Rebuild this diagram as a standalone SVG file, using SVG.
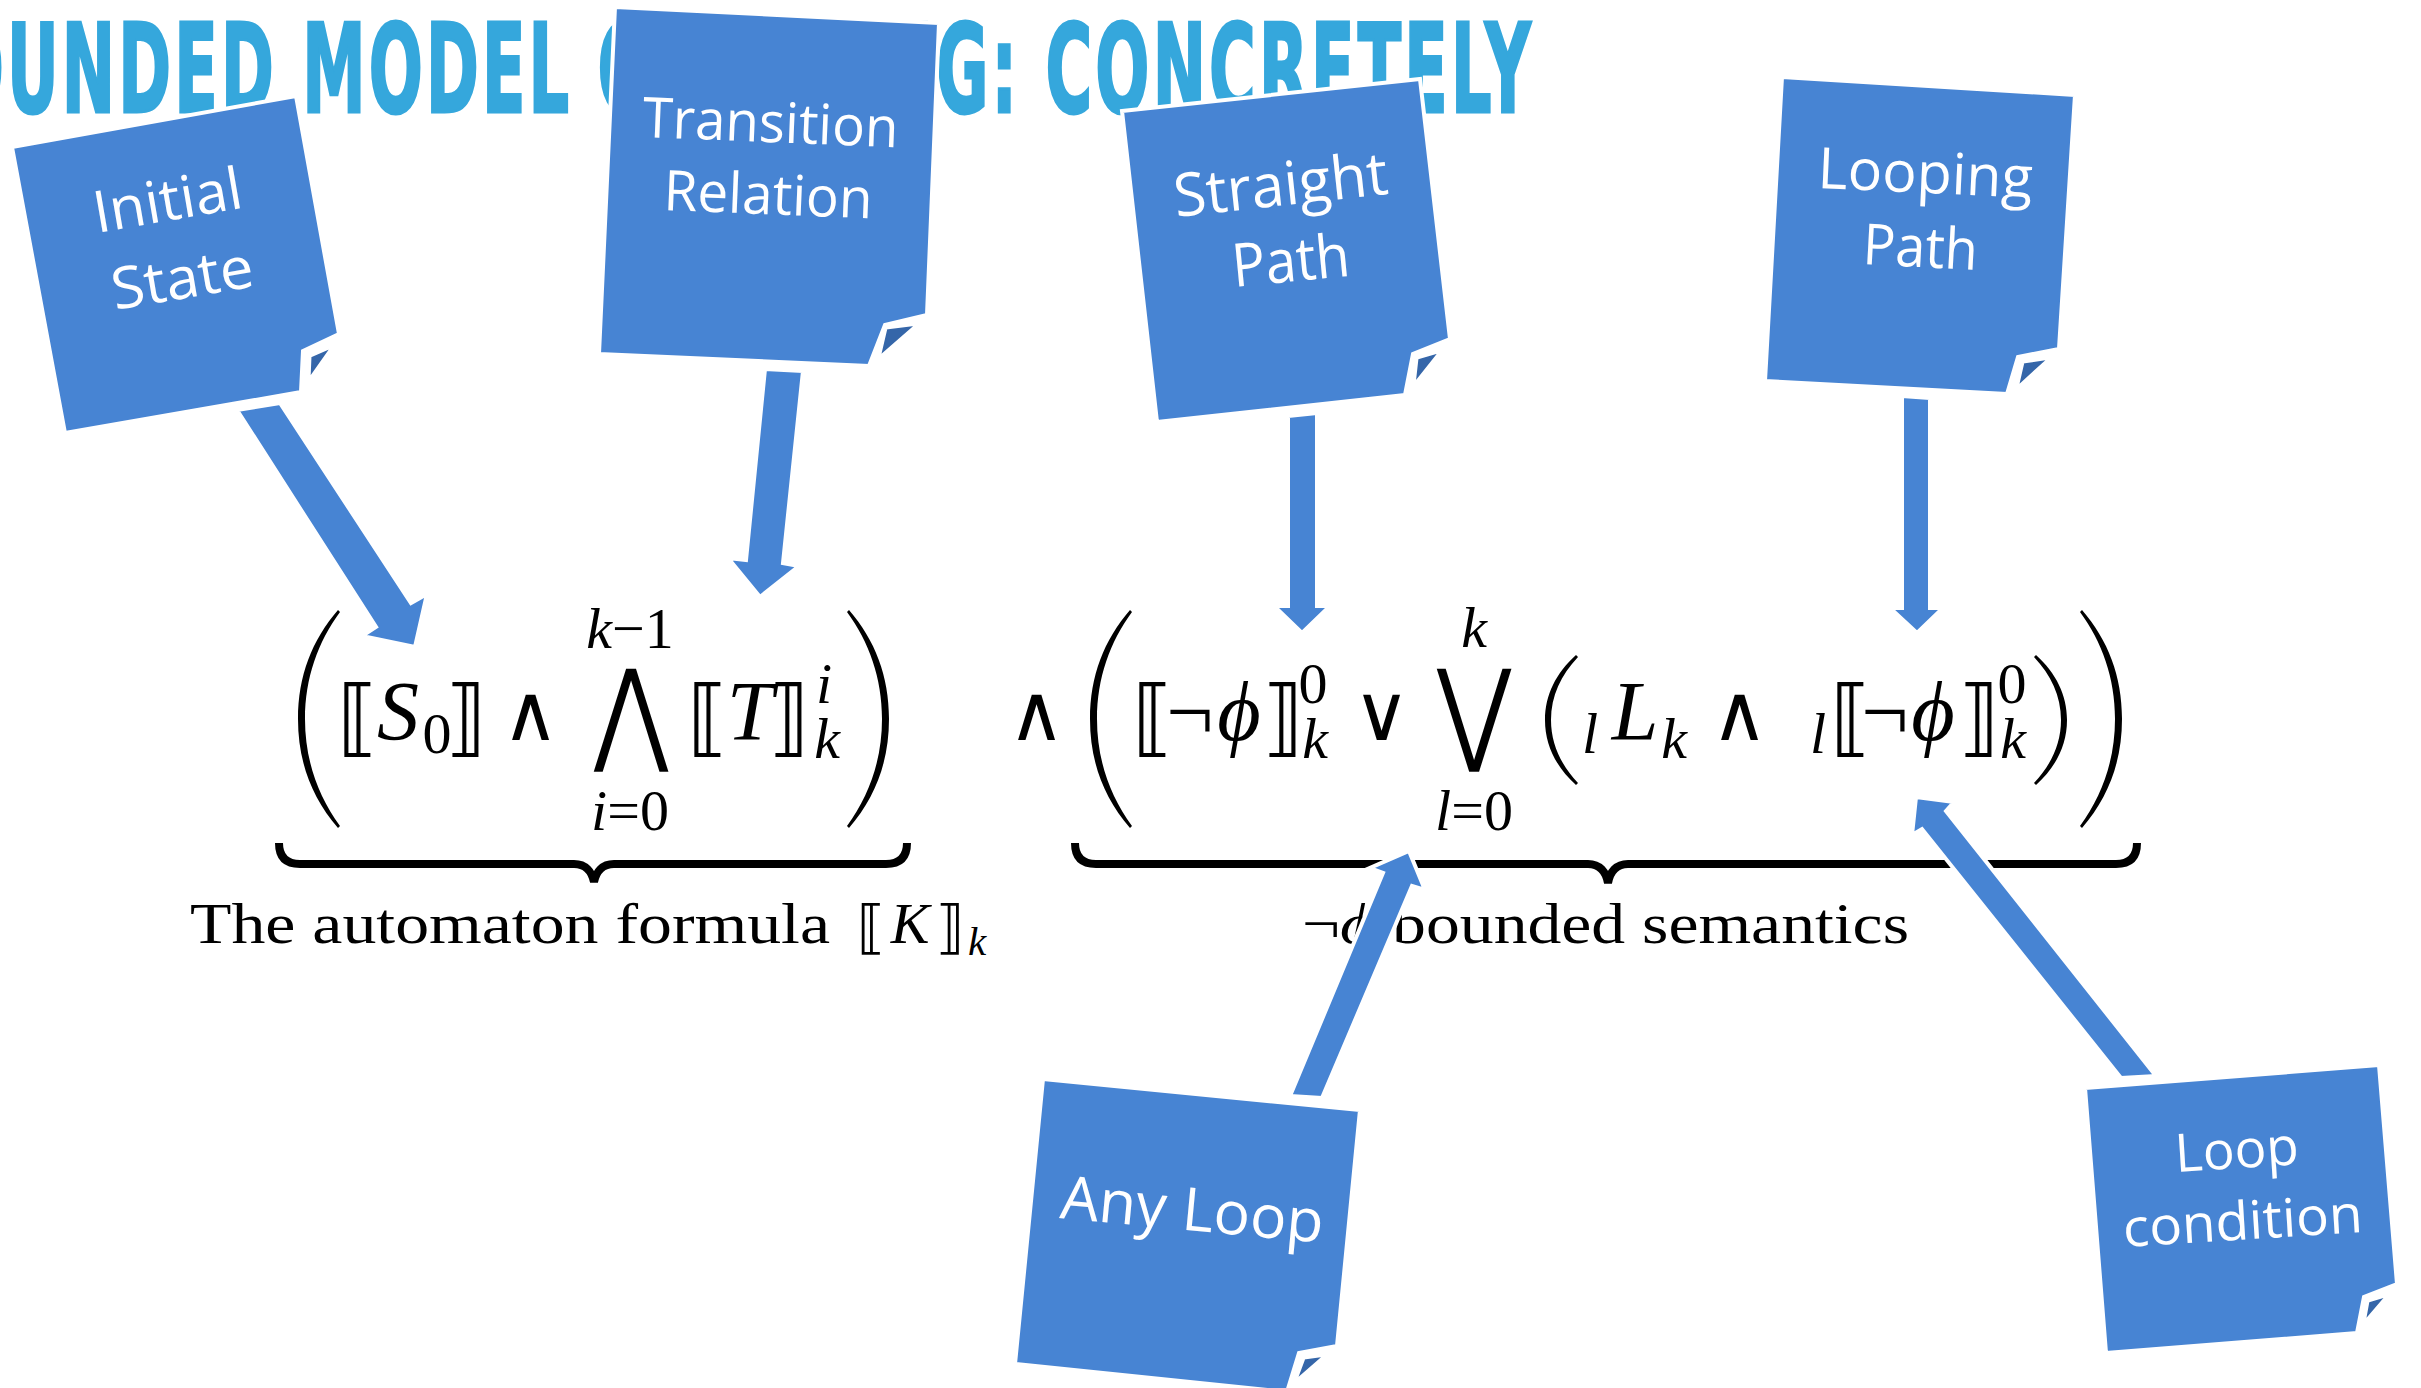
<svg xmlns="http://www.w3.org/2000/svg" width="2421" height="1388" viewBox="0 0 2421 1388">
<style>
.title{font-family:"DejaVu Sans",sans-serif;font-weight:bold;font-size:123px;fill:#35A7DC;stroke:#35A7DC;stroke-width:3;letter-spacing:6px}
.note{fill:#4784D3;stroke:#fff;stroke-width:4;stroke-linejoin:miter}
.fold{fill:#3566A9;stroke:#fff;stroke-width:3}
.lbl{font-family:"Open Sans","Noto Sans",sans-serif;fill:#fff}
.arrow{fill:#4784D3;stroke:#fff;stroke-width:4;stroke-linejoin:miter}
.mi{font-family:"Liberation Serif","DejaVu Serif",serif;font-style:italic;fill:#000}
.mr{font-family:"Liberation Serif","DejaVu Serif",serif;fill:#000}
.op{font-family:"DejaVu Sans",sans-serif;font-weight:200;fill:#000;text-anchor:middle}
.bk{font-family:"DejaVu Sans",sans-serif;fill:#000}
.big{font-family:"DejaVu Sans",sans-serif;font-weight:200;fill:#000;font-size:113px;text-anchor:middle}
.delim{fill:#000}
.brace{fill:none;stroke:#000;stroke-width:8}
.c{text-anchor:middle}
</style>
<defs>
<path id="lparBig" d="M 40,0 C 14,30 0,66 0,109 C 0,152 14,188 40,218 L 42,216 C 20,186 7,150 7,109 C 7,68 20,32 42,2 Z"/>
<path id="lparMed" d="M 31,0 C 11,18 0,40 0,65 C 0,90 11,112 31,130 L 33,128 C 16,110 6,89 6,65 C 6,41 16,20 33,2 Z"/>
</defs>
<rect width="2421" height="1388" fill="#fff"/>

<g id="title">
<text class="title" x="-102" y="112" textLength="1636" lengthAdjust="spacingAndGlyphs">BOUNDED MODEL CHECKING: CONCRETELY</text>
</g>

<g id="formula">
<!-- big delimiters -->
<use href="#lparBig" class="delim" transform="translate(298,610)"/>
<use href="#lparBig" class="delim" transform="translate(889,610) scale(-1,1)"/>
<use href="#lparBig" class="delim" transform="translate(1090,610)"/>
<use href="#lparBig" class="delim" transform="translate(2122,610) scale(-1,1)"/>
<use href="#lparMed" class="delim" transform="translate(1545,655)"/>
<use href="#lparMed" class="delim" transform="translate(2067,655) scale(-1,1)"/>
<!-- left part -->
<text class="bk c" x="358" y="746" font-size="84">⟦</text>
<text class="mi c" x="398" y="740" font-size="84">S</text>
<text class="mr c" x="437" y="753" font-size="58">0</text>
<text class="bk c" x="466" y="746" font-size="84">⟧</text>
<text class="op" x="530" y="740" font-size="78">∧</text>
<text class="big" transform="translate(631,750) scale(0.8,1)">⋀</text>
<text class="mr c" x="630" y="648" font-size="58"><tspan class="mi">k</tspan>−1</text>
<text class="mr c" x="630" y="830" font-size="58"><tspan class="mi">i</tspan>=0</text>
<text class="bk c" x="708" y="746" font-size="84">⟦</text>
<text class="mi c" x="750" y="740" font-size="84">T</text>
<text class="bk c" x="789" y="746" font-size="84">⟧</text>
<text class="mi c" x="824" y="703" font-size="58">i</text>
<text class="mi c" x="827" y="758" font-size="58">k</text>
<text class="op" x="1036" y="740" font-size="78">∧</text>
<!-- right part -->
<text class="bk c" x="1153" y="746" font-size="84">⟦</text>
<text class="mr c" x="1190" y="740" font-size="84">¬</text>
<text class="mi c" x="1239" y="740" font-size="84">ϕ</text>
<text class="bk c" x="1283" y="746" font-size="84">⟧</text>
<text class="mr c" x="1313" y="703" font-size="58">0</text>
<text class="mi c" x="1315" y="758" font-size="58">k</text>
<text class="op" x="1381" y="740" font-size="78">∨</text>
<text class="big" transform="translate(1474,750) scale(0.8,1)">⋁</text>
<text class="mi c" x="1474" y="647" font-size="58">k</text>
<text class="mr c" x="1474" y="830" font-size="58"><tspan class="mi">l</tspan>=0</text>
<text class="mi c" x="1590" y="753" font-size="58">l</text>
<text class="mi c" x="1635" y="740" font-size="84">L</text>
<text class="mi c" x="1674" y="758" font-size="58">k</text>
<text class="op" x="1739" y="740" font-size="78">∧</text>
<text class="mi c" x="1818" y="753" font-size="58">l</text>
<text class="bk c" x="1851" y="746" font-size="84">⟦</text>
<text class="mr c" x="1885" y="740" font-size="84">¬</text>
<text class="mi c" x="1933" y="740" font-size="84">ϕ</text>
<text class="bk c" x="1979" y="746" font-size="84">⟧</text>
<text class="mr c" x="2012" y="703" font-size="58">0</text>
<text class="mi c" x="2013" y="758" font-size="58">k</text>
<!-- underbraces -->
<path class="brace" d="M 279,843 C 279,857 286,864 300,864 L 574,864 C 586,864 592,872 594,882 C 596,872 602,864 614,864 L 886,864 C 900,864 907,857 907,843"/>
<path class="brace" d="M 1075,843 C 1075,857 1082,864 1096,864 L 1588,864 C 1600,864 1606,872 1608,883 C 1610,872 1616,864 1628,864 L 2116,864 C 2130,864 2137,857 2137,843"/>
<!-- captions -->
<text class="mr" x="190" y="943" font-size="58" textLength="640" lengthAdjust="spacingAndGlyphs">The automaton formula</text>
<text class="bk c" x="871" y="947" font-size="58">⟦</text>
<text class="mi c" x="910" y="943" font-size="58">K</text>
<text class="bk c" x="950" y="947" font-size="58">⟧</text>
<text class="mi c" x="977" y="955" font-size="41">k</text>
<text class="mr" x="1302" y="943" font-size="58" textLength="607" lengthAdjust="spacingAndGlyphs">¬<tspan class="mi">ϕ</tspan> bounded semantics</text>
</g>

<g id="connectors">
<polygon class="arrow" points="237,410 280,403 411,603 427,594 415,647 362,636 376,627"/>
<polygon class="arrow" points="765,369 803,371 783,563 799,566 760,597 728,558 746,560"/>
<polygon class="arrow" points="1288,416 1317,413 1317,606 1330,606 1302,633 1274,606 1288,606"/>
<polygon class="arrow" points="1902,396 1930,398 1930,608 1943,608 1917,633 1890,608 1902,608"/>
<polygon class="arrow" points="1290,1096 1383,873 1370,868 1409,851 1425,890 1412,886 1322,1098"/>
<polygon class="arrow" points="2121,1078 1922,829 1912,835 1916,797 1954,802 1946,811 2156,1076"/>
</g>

<g id="initial-state">
<polygon class="note" points="12,147 296,96 339,334 303,351 301,392 65,433"/>
<polygon class="fold" points="310,356 333,346 309,380"/>
<text class="lbl" font-size="58" x="97" y="233" textLength="150" lengthAdjust="spacingAndGlyphs" transform="rotate(-9.8 97 233)">Initial</text>
<text class="lbl" font-size="58" x="115" y="310" textLength="143" lengthAdjust="spacingAndGlyphs" transform="rotate(-9.6 115 310)">State</text>
</g>

<g id="transition-relation">
<polygon class="note" points="615,7 939,23 927,315 885,325 869,366 599,354"/>
<polygon class="fold" points="886,328 918,324 879,358"/>
<text class="lbl" font-size="56" x="642" y="137" textLength="256" lengthAdjust="spacingAndGlyphs" transform="rotate(2.3 642 137)">Transition</text>
<text class="lbl" font-size="56" x="663" y="210" textLength="209" lengthAdjust="spacingAndGlyphs" transform="rotate(2.3 663 210)">Relation</text>
</g>

<g id="straight-path">
<polygon class="note" points="1122,111 1420,79 1450,339 1413,354 1405,395 1157,422"/>
<polygon class="fold" points="1417,358 1441,351 1414,385"/>
<text class="lbl" font-size="60" x="1176" y="217" textLength="215" lengthAdjust="spacingAndGlyphs" transform="rotate(-6.2 1176 217)">Straight</text>
<text class="lbl" font-size="60" x="1234" y="287" textLength="118" lengthAdjust="spacingAndGlyphs" transform="rotate(-5.5 1234 287)">Path</text>
</g>

<g id="looping-path">
<polygon class="note" points="1782,77 2075,95 2059,349 2018,357 2007,394 1765,381"/>
<polygon class="fold" points="2023,362 2050,358 2017,388"/>
<text class="lbl" font-size="57" x="1817" y="188" textLength="215" lengthAdjust="spacingAndGlyphs" transform="rotate(2.6 1817 188)">Looping</text>
<text class="lbl" font-size="57" x="1862" y="264" textLength="115" lengthAdjust="spacingAndGlyphs" transform="rotate(3 1862 264)">Path</text>
</g>

<g id="any-loop">
<polygon class="note" points="1043,1079 1360,1110 1337,1346 1299,1353 1287,1392 1015,1364"/>
<polygon class="fold" points="1304,1358 1326,1355 1295,1382"/>
<text class="lbl" font-size="60" x="1059" y="1218" textLength="264" lengthAdjust="spacingAndGlyphs" transform="rotate(5.4 1059 1218)">Any Loop</text>
</g>

<g id="loop-condition">
<polygon class="note" points="2085,1088 2379,1065 2397,1284 2364,1297 2357,1333 2106,1353"/>
<polygon class="fold" points="2368,1301 2388,1295 2364,1323"/>
<text class="lbl" font-size="53" x="2176" y="1172" textLength="124" lengthAdjust="spacingAndGlyphs" transform="rotate(-3.6 2176 1172)">Loop</text>
<text class="lbl" font-size="53" x="2124" y="1247" textLength="240" lengthAdjust="spacingAndGlyphs" transform="rotate(-3.6 2124 1247)">condition</text>
</g>
</svg>
